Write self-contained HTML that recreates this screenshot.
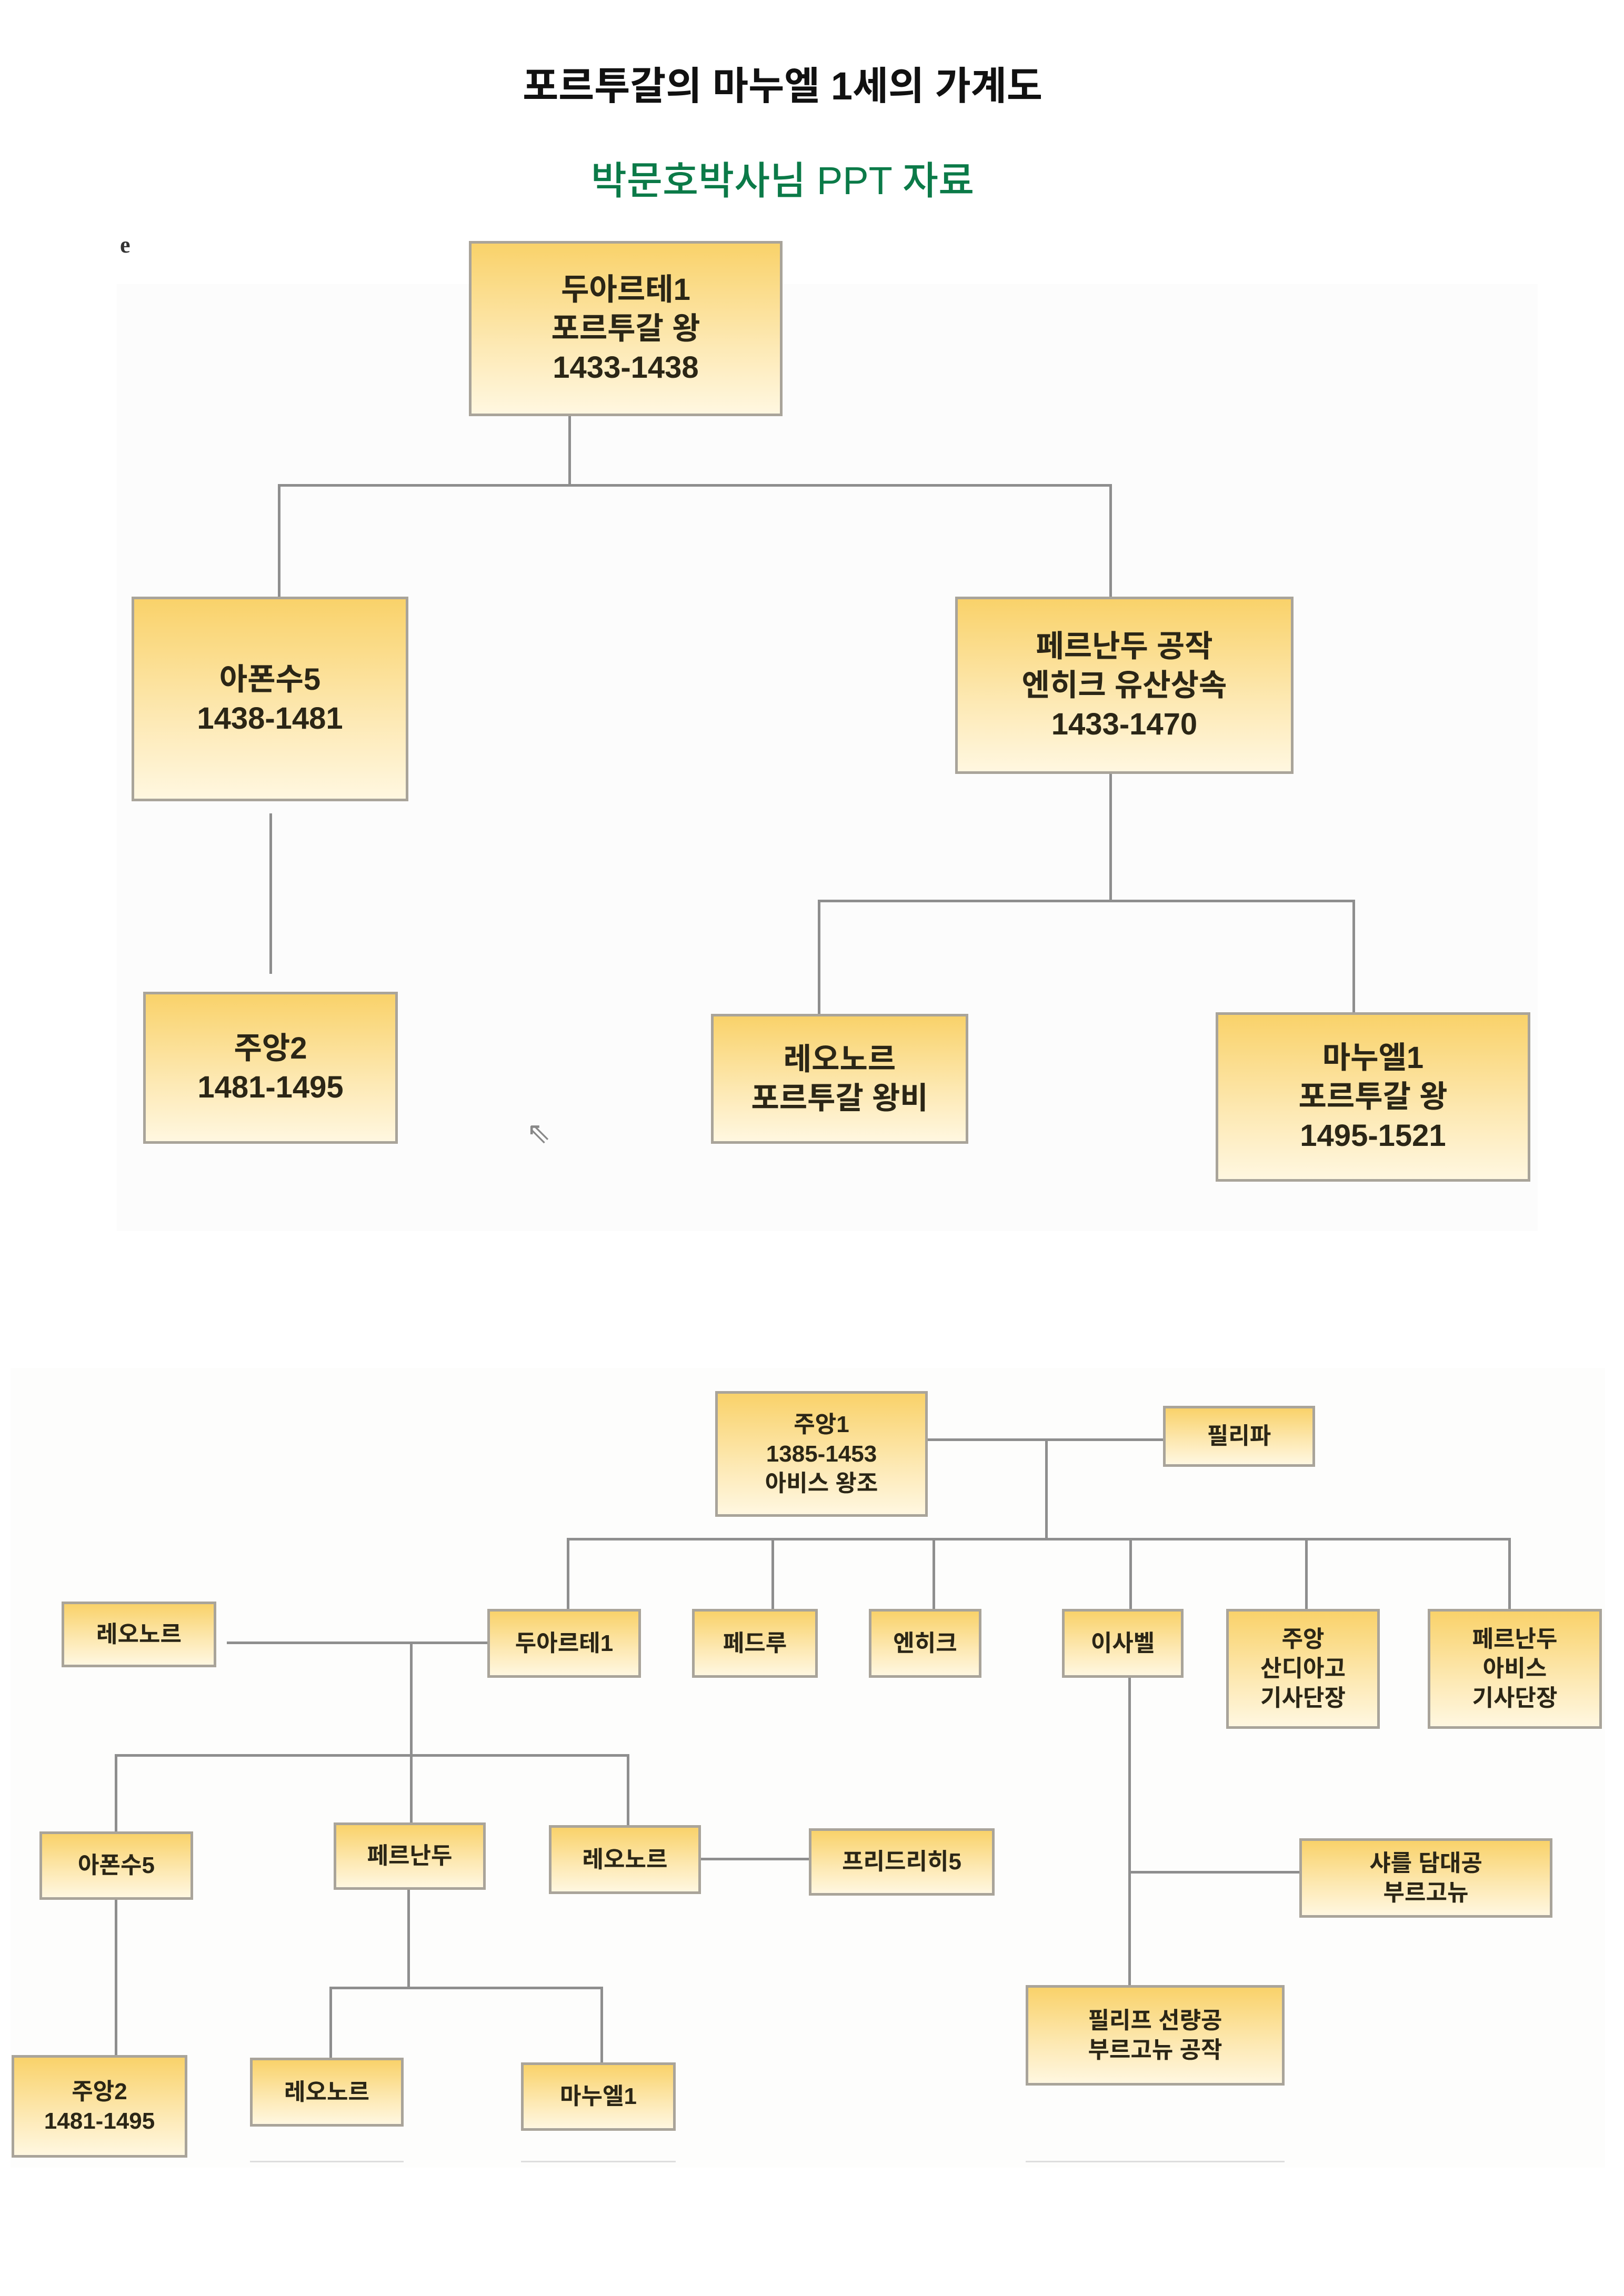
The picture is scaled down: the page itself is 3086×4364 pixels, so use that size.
<!DOCTYPE html>
<html><head><meta charset="utf-8"><style>
html,body{margin:0;padding:0;background:#fff;}
body{width:3086px;height:4364px;position:relative;overflow:hidden;font-family:"Liberation Sans","Noto Sans CJK KR",sans-serif;}
.t{position:absolute;left:0;width:2974px;text-align:center;}
.b{position:absolute;box-sizing:border-box;border:5px solid #a9a49a;background:linear-gradient(#f9d26a,#fde9b4 60%,#fff7e0);display:flex;align-items:center;justify-content:center;text-align:center;font-weight:bold;color:#2b2616;}
.L{font-size:58px;line-height:74px;}
.S{font-size:44px;line-height:56px;}
.h{position:absolute;height:5px;background:#8e8e8e;}
.v{position:absolute;width:5px;background:#8e8e8e;}
</style></head><body>
<div class="t" style="top:104px;font-size:74px;color:#111;font-weight:600;">포르투갈의 마누엘 1세의 가계도</div>
<div class="t" style="top:284px;font-size:74px;color:#0b7a48;font-weight:500;">박문호박사님 PPT 자료</div>
<div style="position:absolute;left:222px;top:540px;width:2700px;height:1800px;background:#fcfcfc;"></div>
<div style="position:absolute;left:20px;top:2600px;width:3030px;height:1520px;background:#fdfdfc;"></div>
<div style="position:absolute;left:228px;top:440px;font-size:44px;font-weight:bold;color:#333;font-family:'Liberation Serif',serif;">e</div>

<div class="v" style="left:1080px;top:790px;height:132px"></div>
<div class="h" style="left:528px;top:920px;width:1585px"></div>
<div class="v" style="left:528px;top:920px;height:216px"></div>
<div class="v" style="left:2108px;top:920px;height:216px"></div>
<div class="v" style="left:512px;top:1546px;height:305px"></div>
<div class="v" style="left:2108px;top:1471px;height:241px"></div>
<div class="h" style="left:1554px;top:1710px;width:1021px"></div>
<div class="v" style="left:1554px;top:1710px;height:218px"></div>
<div class="v" style="left:2570px;top:1710px;height:216px"></div>

<div class="b L" style="left:891px;top:458px;width:596px;height:333px">두아르테1<br>포르투갈 왕<br>1433-1438</div>
<div class="b L" style="left:250px;top:1134px;width:526px;height:389px">아폰수5<br>1438-1481</div>
<div class="b L" style="left:1815px;top:1134px;width:643px;height:337px">페르난두 공작<br>엔히크 유산상속<br>1433-1470</div>
<div class="b L" style="left:272px;top:1885px;width:484px;height:289px">주앙2<br>1481-1495</div>
<div class="b L" style="left:1351px;top:1927px;width:489px;height:247px">레오노르<br>포르투갈 왕비</div>
<div class="b L" style="left:2310px;top:1924px;width:598px;height:322px">마누엘1<br>포르투갈 왕<br>1495-1521</div>
<div style="position:absolute;left:1000px;top:2120px;font-size:56px;color:#888;">⇖</div>

<div class="h" style="left:1763px;top:2734px;width:447px"></div>
<div class="v" style="left:1986px;top:2734px;height:193px"></div>
<div class="h" style="left:1077px;top:2923px;width:1794px"></div>
<div class="v" style="left:1077px;top:2923px;height:137px"></div>
<div class="v" style="left:1466px;top:2923px;height:137px"></div>
<div class="v" style="left:1772px;top:2923px;height:137px"></div>
<div class="v" style="left:2146px;top:2923px;height:137px"></div>
<div class="v" style="left:2480px;top:2923px;height:137px"></div>
<div class="v" style="left:2866px;top:2923px;height:137px"></div>
<div class="h" style="left:431px;top:3120px;width:497px"></div>
<div class="v" style="left:779px;top:3120px;height:347px"></div>
<div class="h" style="left:218px;top:3334px;width:977px"></div>
<div class="v" style="left:218px;top:3334px;height:148px"></div>
<div class="v" style="left:1191px;top:3334px;height:136px"></div>
<div class="h" style="left:1332px;top:3531px;width:206px"></div>
<div class="v" style="left:774px;top:3592px;height:186px"></div>
<div class="h" style="left:626px;top:3776px;width:519px"></div>
<div class="v" style="left:626px;top:3776px;height:136px"></div>
<div class="v" style="left:1141px;top:3776px;height:145px"></div>
<div class="v" style="left:218px;top:3611px;height:296px"></div>
<div class="v" style="left:2144px;top:3189px;height:585px"></div>
<div class="h" style="left:2144px;top:3556px;width:326px"></div>

<div class="b S" style="left:1359px;top:2644px;width:404px;height:239px">주앙1<br>1385-1453<br>아비스 왕조</div>
<div class="b S" style="left:2210px;top:2672px;width:289px;height:116px">필리파</div>
<div class="b S" style="left:117px;top:3044px;width:294px;height:125px">레오노르</div>
<div class="b S" style="left:926px;top:3058px;width:292px;height:131px">두아르테1</div>
<div class="b S" style="left:1315px;top:3058px;width:239px;height:131px">페드루</div>
<div class="b S" style="left:1651px;top:3058px;width:214px;height:131px">엔히크</div>
<div class="b S" style="left:2018px;top:3058px;width:231px;height:131px">이사벨</div>
<div class="b S" style="left:2330px;top:3058px;width:292px;height:228px">주앙<br>산디아고<br>기사단장</div>
<div class="b S" style="left:2713px;top:3058px;width:331px;height:228px">페르난두<br>아비스<br>기사단장</div>
<div class="b S" style="left:75px;top:3481px;width:292px;height:130px">아폰수5</div>
<div class="b S" style="left:634px;top:3464px;width:289px;height:128px">페르난두</div>
<div class="b S" style="left:1043px;top:3469px;width:289px;height:131px">레오노르</div>
<div class="b S" style="left:1537px;top:3475px;width:353px;height:128px">프리드리히5</div>
<div class="b S" style="left:2469px;top:3494px;width:481px;height:151px">샤를 담대공<br>부르고뉴</div>
<div class="b S" style="left:1949px;top:3773px;width:492px;height:191px">필리프 선량공<br>부르고뉴 공작</div>
<div class="b S" style="left:22px;top:3906px;width:334px;height:195px">주앙2<br>1481-1495</div>
<div class="b S" style="left:475px;top:3911px;width:292px;height:131px">레오노르</div>
<div class="b S" style="left:990px;top:3920px;width:294px;height:130px">마누엘1</div>
<div class="h" style="left:475px;top:4107px;width:292px;height:3px;background:#ddd"></div>
<div class="h" style="left:990px;top:4107px;width:294px;height:3px;background:#ddd"></div>
<div class="h" style="left:1949px;top:4107px;width:492px;height:3px;background:#ddd"></div>
</body></html>
